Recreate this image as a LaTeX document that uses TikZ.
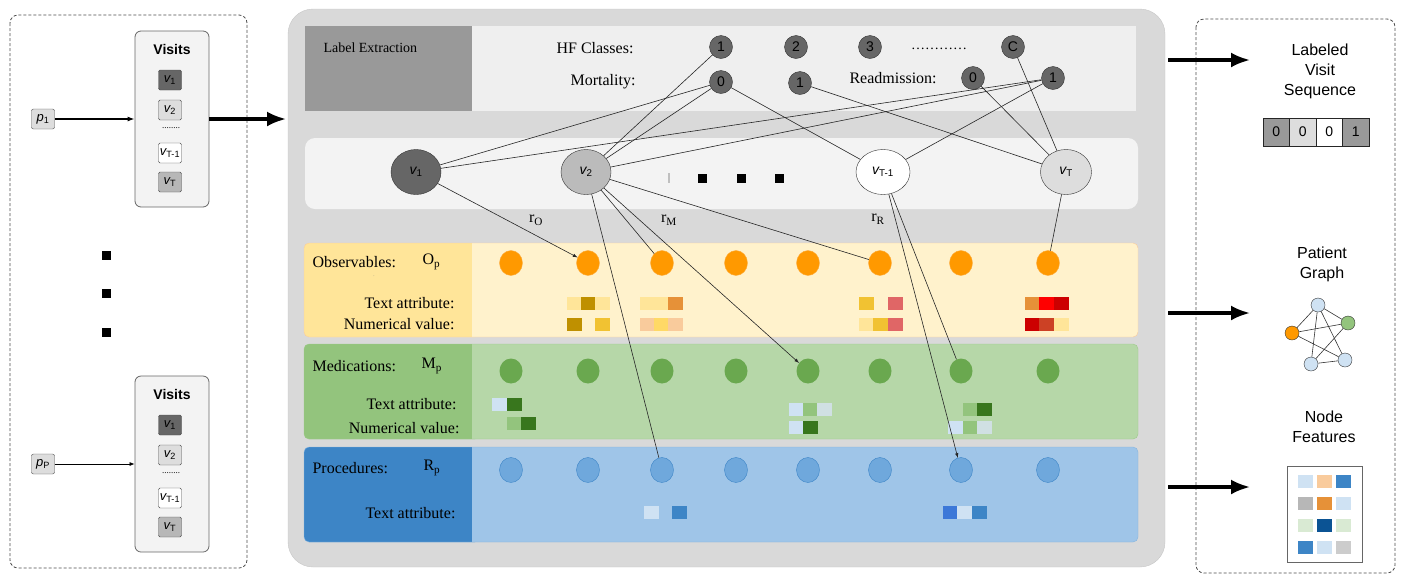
\documentclass[tikz,border=0pt]{standalone}
\usepackage{fontspec}
\setmainfont{Liberation Serif}
\setsansfont{Liberation Sans}
\usetikzlibrary{shapes.geometric, arrows.meta}

\definecolor{panelgray}{HTML}{D9D9D9}
\definecolor{bandgray}{HTML}{EFEFEF}
\definecolor{rowgray}{HTML}{F3F3F3}
\definecolor{lbldark}{HTML}{999999}
\definecolor{nodedark}{HTML}{666666}
\definecolor{nodemid}{HTML}{BBBBBB}
\definecolor{nodelight}{HTML}{DDDDDD}
\definecolor{obsdark}{HTML}{FFE599}
\definecolor{obslight}{HTML}{FFF2CC}
\definecolor{obsedge}{HTML}{F9CB9C}
\definecolor{obsnode}{HTML}{FF9900}
\definecolor{meddark}{HTML}{93C47D}
\definecolor{medlight}{HTML}{B6D7A8}
\definecolor{mednode}{HTML}{6AA84F}
\definecolor{prodark}{HTML}{3D85C6}
\definecolor{prolight}{HTML}{9FC5E8}
\definecolor{pronode}{HTML}{6FA8DC}
\definecolor{gold}{HTML}{BF9000}
\definecolor{sun}{HTML}{F1C232}
\definecolor{butter}{HTML}{FFD966}
\definecolor{peach}{HTML}{F9CB9C}
\definecolor{tang}{HTML}{E69138}
\definecolor{rose}{HTML}{E06666}
\definecolor{scarlet}{HTML}{FF0000}
\definecolor{crimson}{HTML}{CC0000}
\definecolor{rust}{HTML}{CC4125}
\definecolor{ice}{HTML}{CFE2F3}
\definecolor{forest}{HTML}{38761D}
\definecolor{mist}{HTML}{D0E0E3}
\definecolor{royal}{HTML}{3C78D8}
\definecolor{navy}{HTML}{0B5394}
\definecolor{mint}{HTML}{D9EAD3}
\definecolor{ash}{HTML}{CCCCCC}
\definecolor{stone}{HTML}{B7B7B7}

\begin{document}
\begin{tikzpicture}[x=1pt, y=-1pt, >=latex,
		serif/.style={font=\fontsize{16}{19}\selectfont},
		sans/.style={font=\sffamily\fontsize{16}{20}\selectfont},
		lblnode/.style={circle, draw=black!80, fill=nodedark, minimum size=23pt, inner sep=0pt, font=\sffamily\fontsize{14}{16}\selectfont},
		visit/.style={ellipse, draw=black!80, minimum width=50pt, minimum height=45pt, inner sep=0pt, font=\sffamily\fontsize{14}{16}\selectfont},
		vbox/.style={draw=black!70, rounded corners=1.5pt, minimum width=23pt, minimum height=20pt, inner sep=0pt, font=\sffamily\fontsize{13}{15}\selectfont},
		visitbox/.style={draw=black!60, fill=rowgray, rounded corners=6pt, line width=0.8pt, minimum width=74pt, minimum height=176pt},
		obsdot/.style={ellipse, fill=obsnode, draw=obsnode!60!obsedge, minimum width=23pt, minimum height=25pt, inner sep=0pt},
		meddot/.style={ellipse, fill=mednode, minimum width=23pt, minimum height=25pt, inner sep=0pt},
		prodot/.style={ellipse, fill=pronode, draw=prodark, minimum width=23pt, minimum height=25pt, inner sep=0pt},
		seqcell/.style={draw=black!85, line width=0.8pt, minimum width=26.5pt, minimum height=28pt, inner sep=0pt, font=\sffamily\fontsize{14}{16}\selectfont},
		gnode/.style={circle, draw=black!80, fill=ice, minimum size=14pt, inner sep=0pt},
		sq/.style={fill=black, minimum size=9pt, inner sep=0pt},
		link/.style={black!85, line width=0.6pt},
		bigarrow/.style={-{Latex[length=19pt, width=15pt]}, line width=3.2pt},
		panel/.style={black!70, line width=0.8pt, dash pattern=on 3pt off 2pt, rounded corners=8pt}
	]
	\useasboundingbox (0,0) rectangle (1404,582);

	% panels
	\draw[panel] (10,15) rectangle (247,568);
	\filldraw[fill=panelgray, draw=black!22, rounded corners=25pt] (288,9) rectangle (1165,567);
	\draw[panel] (1196,19) rectangle (1395,573);

	% patients and their visits
	\foreach \p/\c/\s in {1/119/1, 2/464/P} {
			\node[visitbox] (vis\p) at (172,\c) {};
			\node[font=\sffamily\bfseries\fontsize{14}{16}\selectfont] (vh\p) at (172,\c-70) {Visits};
			\node[vbox, fill=nodedark] (a\p1) at (170,\c-39) {{\itshape v}\textsubscript{1}};
			\node[vbox, fill=nodelight] (a\p2) at (170,\c-9) {{\itshape v}\textsubscript{2}};
			\node[font=\fontsize{9}{10}\selectfont] (ad\p) at (171,\c+9) {........};
			\node[vbox, fill=white] (a\p3) at (170,\c+34) {{\itshape v}\textsubscript{T-1}};
			\node[vbox, fill=stone] (a\p4) at (170,\c+63) {{\itshape v}\textsubscript{T}};
			\node[vbox, fill=nodelight, minimum width=23pt, rounded corners=2pt] (p\p) at (43,\c) {{\itshape p}\textsubscript{\s}};
		}
	\draw[-{Latex[length=7pt, width=5pt]}, line width=1.2pt] (p1) -- (vis1);
	\draw[-{Latex[length=5pt, width=4pt]}, line width=0.7pt] (p2) -- (vis2);
	\foreach \y [count=\i] in {255,293,332}
	\node[sq] (lsq\i) at (106,\y) {};
	\coordinate (in1) at (286,119);
	\draw[bigarrow] (vis1) -- (in1);

	% label extraction
	\fill[bandgray] (305,26) rectangle (1136,111);
	\fill[lbldark] (305,26) rectangle (472,111);
	\node[anchor=west, font=\fontsize{14}{16}\selectfont] (lblx) at (320,48) {Label Extraction};
	\node[serif, anchor=east] (hft) at (637,48) {HF Classes:};
	\node[serif, anchor=east] (mot) at (639,82) {Mortality:};
	\node[serif, anchor=west] (ret) at (846,78) {Readmission:};
	\node[lblnode] (hf1) at (721,47) {1};
	\node[lblnode] (hf2) at (796,47) {2};
	\node[lblnode] (hf3) at (870,47) {3};
	\node[font=\fontsize{14}{16}\selectfont] (hfd) at (939,49) {\ldots\ldots\ldots\ldots};
	\node[lblnode] (hfc) at (1013,47) {C};
	\node[lblnode] (mo0) at (721,82) {0};
	\node[lblnode] (mo1) at (800,83) {1};
	\node[lblnode] (re0) at (973,78) {0};
	\node[lblnode] (re1) at (1053,78) {1};

	% visit sequence
	\fill[rowgray, rounded corners=10pt] (305,138) rectangle (1138,209);
	\node[visit, fill=nodedark] (v1) at (416,172) {{\itshape v}\textsubscript{1}};
	\node[visit, fill=nodemid] (v2) at (586,172) {{\itshape v}\textsubscript{2}};
	\node[visit, fill=white, minimum width=54pt] (vT1) at (883,172) {{\itshape v}\textsubscript{T-1}};
	\node[visit, fill=nodelight, minimum width=51pt] (vT) at (1066,172) {{\itshape v}\textsubscript{T}};
	\fill[black!25] (668,173) rectangle (670,183);
	\foreach \x [count=\i] in {702,741,779}
	\node[sq] (dot\i) at (\x,178) {};

	% node type bands
	\foreach \t/\b/\d/\l/\e in {243/337/obsdark/obslight/obsedge, 344/439/meddark/medlight/meddark!70!medlight, 447/542/prodark/prolight/prodark!25!prolight} {
			\fill[\l, rounded corners=5pt] (304,\t) rectangle (1138,\b);
			\fill[\d, rounded corners=5pt] (304,\t) rectangle (480,\b);
			\fill[\l] (472,\t) rectangle (481,\b);
			\draw[\e, rounded corners=5pt] (304,\t) rectangle (1138,\b);
		}
	\node[serif, anchor=west] (obt) at (309,262) {Observables:};
	\node[serif, anchor=west] (obp) at (419,262) {O\textsubscript{p}};
	\node[font=\tiny, text=black!50] (speck) at (374,276) {.};
	\node[serif, anchor=east] (obta) at (458,303) {Text attribute:};
	\node[serif, anchor=east] (obnv) at (458,324) {Numerical value:};
	\node[serif, anchor=west] (met) at (309,366) {Medications:};
	\node[serif, anchor=west] (mep) at (418,366) {M\textsubscript{p}};
	\node[serif, anchor=east] (meta) at (460,404) {Text attribute:};
	\node[serif, anchor=east] (menv) at (463,428) {Numerical value:};
	\node[serif, anchor=west] (prt) at (309,468) {Procedures:};
	\node[serif, anchor=west] (prp) at (420,468) {R\textsubscript{p}};
	\node[serif, anchor=east] (prta) at (459,513) {Text attribute:};

	\foreach \x [count=\i] in {511,588,662,736,808,880,961,1048} {
			\node[obsdot] (o\i) at (\x,263) {};
			\node[meddot] (m\i) at (\x,371) {};
			\node[prodot] (r\i) at (\x,470) {};
		}

	% attribute patches
	\foreach \x/\y/\c in {567/297/obsdark, 581/297/gold, 595/297/obsdark, 640/297/obsdark, 654/297/obsdark, 668/297/tang,
			859/297/sun, 888/297/rose, 1025/297/tang, 1039/297/scarlet, 1054/297/crimson,
			567/318/gold, 595/318/sun, 640/318/peach, 654/318/butter, 668/318/peach,
			859/318/obsdark, 873/318/sun, 888/318/rose, 1025/318/crimson, 1039/318/rust, 1054/318/obsdark,
			492/398/ice, 507/398/forest, 507/417/meddark, 521/417/forest,
			789/403/ice, 803/403/meddark, 817/403/mist, 789/421/ice, 803/421/forest,
			963/403/meddark, 977/403/forest, 948/421/ice, 963/421/meddark, 977/421/mist,
			644/506/ice, 672/506/prodark, 943/506/royal, 957/506/ice, 972/506/prodark}
	\fill[\c] (\x,\y) rectangle ++(14.5,13);

	% label and relation links
	\draw[link] (v1) -- (mo0);
	\draw[link] (v1) -- (re1);
	\draw[link] (v2) -- (hf1);
	\draw[link] (v2) -- (mo0);
	\draw[link] (v2) -- (re1);
	\draw[link] (mo0) -- (vT1);
	\draw[link] (mo1) -- (vT);
	\draw[link] (re0) -- (vT);
	\draw[link] (re1) -- (vT1);
	\draw[link] (hfc) -- (vT);
	\draw[link, ->] (v1) -- (o2);
	\draw[link] (v2) -- (o3);
	\draw[link, ->] (v2) -- (m5);
	\draw[link] (v2) -- (o6);
	\draw[link] (v2) -- (r3);
	\draw[link, ->] (vT1) -- (r7);
	\draw[link] (vT1) -- (m7);
	\draw[link] (vT) -- (o8);
	\node[serif] (ro) at (536,220) {r\textsubscript{O}};
	\node[serif] (rm) at (669,220) {r\textsubscript{M}};
	\node[serif] (rr) at (878,219) {r\textsubscript{R}};

	% outputs
	\coordinate (lout) at (1168,60);
	\coordinate (ltip) at (1250,60);
	\coordinate (gout) at (1168,313);
	\coordinate (gtip) at (1250,313);
	\coordinate (fout) at (1168,487);
	\coordinate (ftip) at (1250,487);
	\draw[bigarrow] (lout) -- (ltip);
	\draw[bigarrow] (gout) -- (gtip);
	\draw[bigarrow] (fout) -- (ftip);

	\node[sans, align=center] (lvs) at (1320,71) {Labeled\\Visit\\Sequence};
	\foreach \c/\v [count=\i] in {lbldark/0, nodelight/0, white/0, lbldark/1}
	\node[seqcell, fill=\c] (s\i) at (1249.75+26.5*\i,132) {\v};

	\node[sans, align=center] (pg) at (1322,264) {Patient\\Graph};
	\node[gnode] (g1) at (1318,305) {};
	\node[gnode, fill=meddark] (g2) at (1348,323) {};
	\node[gnode, fill=obsnode] (g3) at (1292,333) {};
	\node[gnode] (g4) at (1311,364) {};
	\node[gnode] (g5) at (1345,360) {};
	\foreach \a/\b in {g1/g2, g1/g3, g1/g4, g1/g5, g3/g2, g3/g5, g2/g4, g4/g5}
	\draw[black!80, line width=0.6pt] (\a) -- (\b);

	\node[sans, align=center] (nf) at (1324,427) {Node\\Features};
	\node[draw=black!60, fill=white, line width=0.8pt, minimum width=75pt, minimum height=96pt] (feat) at (1324.5,514) {};
	\foreach \c [count=\i from 0] in {ice,peach,prodark,stone,tang,ice,mint,navy,mint,prodark,ice,ash}
	\fill[\c] ({1298+mod(\i,3)*19},{475+int(\i/3)*22}) rectangle ++(15,13);
\end{tikzpicture}
\end{document}
